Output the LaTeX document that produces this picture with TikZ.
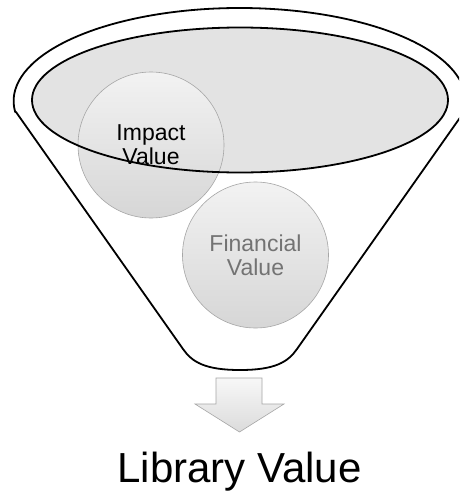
\documentclass[tikz,border=0pt]{standalone}
\usepackage{fontspec}
\setmainfont{Liberation Sans}
\usetikzlibrary{shapes.geometric}
\begin{document}
\begin{tikzpicture}[x=1pt,y=1pt,
  funnelline/.style={draw=black,line width=1.8pt,line join=round},
  circ/.style={circle,minimum size=146pt,inner sep=0pt,draw=black!35,line width=0.6pt,
    top color=black!5,bottom color=black!16,align=center,
    font=\fontsize{23}{24}\selectfont},
  arrowshape/.style={draw=black!35,line width=0.6pt,top color=black!3,bottom color=black!14}]
\fill[white] (0,0) rectangle (459,-491);
\clip (0,0) rectangle (459,-491);
\useasboundingbox (0,0) rectangle (459,-491);
% funnel outline
\path[funnelline] (16,-112) -- (183,-349)
  .. controls (192,-362) and (205,-370) .. (240,-370)
  .. controls (275,-370) and (288,-362) .. (297,-349)
  -- (464,-112)
  arc[start angle=-6.8,end angle=186.8,x radius=226pt,y radius=93pt] -- cycle;
% inner ellipse fill
\node[ellipse,minimum width=416pt,minimum height=145pt,inner sep=0pt,fill=black!11] (top) at (240,-100) {};
% circles
\node[circ] (impact) at (151,-145) {Impact\\Value};
\node[circ,text=black!55] (financial) at (255.5,-255) {Financial\\Value};
% inner ellipse outline on top
\node[ellipse,minimum width=416pt,minimum height=145pt,inner sep=0pt,draw=black,line width=1.8pt] (topline) at (240,-100) {};
% down arrow
\path[arrowshape] (216,-378) -- (262,-378) -- (262,-404) -- (284,-404) -- (239.5,-432) -- (195,-404) -- (216,-404) -- cycle;
% label
\node[anchor=base,inner sep=0pt,font=\fontsize{42}{50}\selectfont] (lib) at (239.5,-482) {Library Value};
\end{tikzpicture}
\end{document}
